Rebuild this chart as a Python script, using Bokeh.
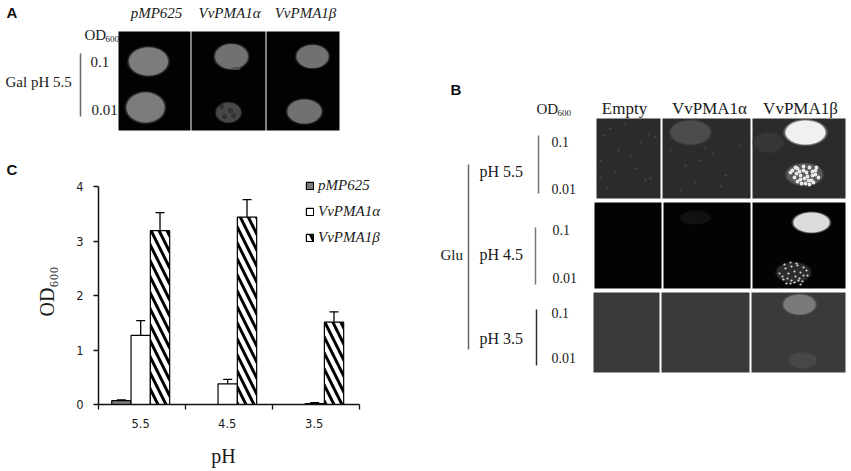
from bokeh.plotting import figure
from bokeh.layouts import row, column
from bokeh.embed import file_html
from bokeh.resources import INLINE
from bokeh.core.properties import value
from bokeh.models import (ColumnDataSource, FixedTicker, Legend, LegendItem, Range1d,
                          Whisker, TeeHead)

SERIF = "Liberation Serif"
SANS = "Liberation Sans"

# ---- panel C data
ph_labels = ["5.5", "4.5", "3.5"]
series_names = ["pMP625", "VvPMA1α", "VvPMA1β"]
pmp625 = [0.07, 0.0, 0.0]
pmp625_top = [0.085, 0.0, 0.0]
pma1a = [1.27, 0.38, 0.015]
pma1a_top = [1.54, 0.46, 0.035]
pma1b = [3.19, 3.44, 1.51]
pma1b_top = [3.52, 3.76, 1.70]

# ---- panel A
a_panes = [(118, 190, 31, 130), (191, 265, 31, 130), (266, 339, 31, 130)]
a_spots = [(148, 61, 39, 28, "#7c7c7c"), (145, 107, 38, 30, "#7c7c7c"), (231, 56, 33, 25, "#717171"),
           (236, 68, 8, 3, "#4c4c4c"), (228, 112, 25, 20, "#474747"), (312, 56, 32, 23, "#717171"),
           (304, 111, 34, 24, "#717171")]
a_blotch_x = [230, 224, 233, 221]
a_blotch_y = [110, 116, 115, 106]
a_headers = [("pMP625", 156), ("VvPMA1α", 229), ("VvPMA1β", 305)]
# ---- panel B
b_panes = [
    (596, 660, 118, 198, "#2b2b2b"), (662, 750, 118, 198, "#2b2b2b"), (752, 845, 118, 198, "#2b2b2b"),
    (594, 661, 202, 288, "#030303"), (663, 750, 202, 288, "#030303"), (752, 845, 202, 288, "#030303"),
    (593, 659, 292, 372, "#3a3a3a"), (661, 749, 292, 372, "#3a3a3a"), (751, 845, 292, 372, "#3a3a3a"),
]
b_spots = [
    (805, 132, 40, 24, "#f0f0f0"), (811, 222, 36, 20, "#dcdcdc"), (799, 304, 32, 20, "#7a7a7a"),
    (690, 132, 40, 24, "#4c4c4c"), (768, 142, 30, 20, "#363636"), (802, 360, 28, 16, "#474747"),
    (804, 174, 36, 22, "#5a5a5a"), (793, 272, 34, 20, "#2c2c2c"), (695, 217, 30, 14, "#111111"),
]
colony_1_x = [790, 794, 797, 800, 803, 806, 809, 812, 815, 818, 792, 796, 800, 804, 808, 812, 816,
              795, 799, 803, 807, 811, 815, 801, 805, 809, 797, 813]
colony_1_y = [172, 177, 168, 175, 166, 172, 167, 175, 170, 177, 170, 173, 179, 178, 180, 171, 167,
              167, 171, 170, 176, 180, 174, 183, 183, 184, 181, 182]
colony_2_x = [779, 782, 785, 788, 791, 794, 797, 800, 803, 806, 783, 787, 791, 795, 799, 803, 807,
              786, 790, 794, 798, 802, 790, 796, 784, 800]
colony_2_y = [273, 276, 268, 273, 266, 271, 265, 272, 267, 270, 279, 278, 280, 276, 278, 275, 275,
              283, 283, 282, 280, 281, 262, 263, 264, 284]
faint_x = [603, 610, 618, 625, 640, 648, 655, 600, 615, 630, 645, 607, 636, 670, 685, 700, 712, 725, 740,
           680, 695, 705, 720, 600, 650]
faint_y = [135, 128, 150, 123, 142, 134, 136, 160, 172, 155, 180, 187, 168, 150, 165, 160, 153, 175, 145,
           190, 182, 148, 186, 177, 178]


def pixel_fig(w, h, x0, y0):
    f = figure(width=w, height=h, x_range=Range1d(x0, x0 + w), y_range=Range1d(y0 + h, y0),
               output_backend="svg", toolbar_location=None, min_border=0, margin=0, frame_align=False,
               x_axis_type=None, y_axis_type=None, outline_line_color=None,
               background_fill_color="white", border_fill_color="white")
    f.grid.visible = False
    return f


def label(f, x, y, s, size=15, font=SERIF, style="normal", align="left", color="#1a1a1a"):
    f.text([x], [y], text=[s], text_font=value(font), text_font_size=f"{size}px",
           text_font_style=style, text_align=align, text_baseline="middle", text_color=color)


def od(f, x, y):
    label(f, x, y, "OD", 15)
    label(f, x + 21, y + 4, "600", 9)


def spot(f, x, y, w, h, color):
    f.ellipse([x], [y], width=[w * 1.12], height=[h * 1.12], fill_color=color, fill_alpha=0.2, line_color=None)
    f.ellipse([x], [y], width=[w * 1.05], height=[h * 1.05], fill_color=color, fill_alpha=0.4, line_color=None)
    f.ellipse([x], [y], width=[w], height=[h], fill_color=color, line_color=None)


# ---- panel A figure
fa = pixel_fig(430, 178, 0, 0)
for l, r, t, b in a_panes:
    fa.quad(left=[l], right=[r], top=[t], bottom=[b], fill_color="#020202", line_color=None)
for x, y, w, h, c in a_spots:
    spot(fa, x, y, w, h, c)
fa.circle(a_blotch_x, a_blotch_y, radius=2.5, fill_color="#2a2a2a", fill_alpha=0.7, line_color=None)
label(fa, 6, 12, "A", 15, SANS, "bold", color="#111111")
label(fa, 6, 169, "C", 15, SANS, "bold", color="#111111")
for s, x in a_headers:
    label(fa, x, 12, s, 15, SERIF, "italic", "center")
od(fa, 84, 34)
label(fa, 90, 61, "0.1")
label(fa, 91, 109, "0.01")
label(fa, 5, 81, "Gal pH 5.5")
fa.segment([80], [53], [80], [116], line_color="#666666", line_width=1.5)

# ---- panel B figure
fb = pixel_fig(421, 471, 430, 0)
for l, r, t, b, c in b_panes:
    fb.quad(left=[l], right=[r], top=[t], bottom=[b], fill_color=c, line_color=None)
for x, y, w, h, c in b_spots:
    spot(fb, x, y, w, h, c)
fb.circle(faint_x, faint_y, radius=1.1, fill_color="#4a4a4a", line_color=None)
fb.circle(colony_1_x, colony_1_y, radius=1.9, fill_color="#e8e8e8", line_color=None)
fb.circle(colony_2_x, colony_2_y, radius=1.1, fill_color="#d8d8d8", line_color=None)
label(fb, 450, 89, "B", 15, SANS, "bold", color="#111111")
od(fb, 536, 108)
for s, x in [("Empty", 624), ("VvPMA1α", 709), ("VvPMA1β", 800)]:
    label(fb, x, 108, s, 17, SERIF, "normal", "center")
for s, y in [("pH 5.5", 171), ("pH 4.5", 254), ("pH 3.5", 338)]:
    label(fb, 479, y, s, 16)
label(fb, 440, 254, "Glu", 15)
for s, x, y in [("0.1", 551, 141), ("0.01", 551, 188), ("0.1", 552, 229), ("0.01", 552, 277),
                ("0.1", 551, 312), ("0.01", 551, 357)]:
    label(fb, x, y, s, 14)
for x, y0, y1, c in [(468, 164, 349, "#666666"), (538, 135, 193, "#777777"),
                     (535, 227, 284, "#777777"), (536, 309, 365, "#333333")]:
    fb.segment([x], [y0], [x], [y1], line_color=c, line_width=1.5)

# ---- panel C figure: a real bar chart
fc = figure(width=430, height=262, x_range=Range1d(0, 3.816), y_range=Range1d(0, 4.147),
            output_backend="svg", toolbar_location=None, margin=0, frame_align=False,
            min_border_left=98, min_border_right=0, min_border_top=0, min_border_bottom=36,
            outline_line_color=None, background_fill_color="white", border_fill_color="white")
fc.grid.visible = False

centers = [0.485, 1.485, 2.485]
step = 0.222
width = 0.222
x_a = [c - step for c in centers]
x_b = centers
x_c = [c + step for c in centers]

r1 = fc.vbar(x=x_a, top=pmp625, width=width, fill_color="#7d7d7d", line_color="black", line_width=1.2)
r2 = fc.vbar(x=x_b, top=pma1a, width=width, fill_color="white", line_color="black", line_width=1.2)
r3 = fc.vbar(x=x_c, top=pma1b, width=width, fill_color="white", line_color="black", line_width=1.2,
             hatch_pattern="left_diagonal_line", hatch_color="black", hatch_weight=3, hatch_scale=16)

for xs, vals, tops in [(x_a, pmp625, pmp625_top), (x_b, pma1a, pma1a_top), (x_c, pma1b, pma1b_top)]:
    keep = [i for i in range(3) if tops[i] > vals[i]]
    src = ColumnDataSource(dict(x=[xs[i] for i in keep], lo=[vals[i] for i in keep], hi=[tops[i] for i in keep]))
    fc.add_layout(Whisker(base="x", lower="lo", upper="hi", source=src, line_color="black", line_width=1.3,
                          lower_head=None, upper_head=TeeHead(size=9, line_color="black", line_width=1.3)))

ax = fc.xaxis[0]
ax.bounds = (0, 3)
ax.ticker = FixedTicker(ticks=[0.485, 1.48, 2.48], minor_ticks=[0, 1, 2, 3])
ax.major_label_overrides = {0.485: ph_labels[0], 1.48: ph_labels[1], 2.48: ph_labels[2]}
ax.major_tick_in = 0
ax.major_tick_out = 0
ax.minor_tick_in = 0
ax.minor_tick_out = 5
ax.major_label_standoff = 9

ay = fc.yaxis[0]
ay.bounds = (0, 4)
ay.ticker = FixedTicker(ticks=[0, 1, 2, 3, 4])
ay.major_tick_in = 0
ay.major_tick_out = 5
ay.minor_tick_out = 0
ay.minor_tick_in = 0
ay.major_label_standoff = 10
ay.axis_label = "OD₆₀₀"
ay.axis_label_text_font = SERIF
ay.axis_label_text_font_size = "20px"
ay.axis_label_text_font_style = "normal"
ay.axis_label_standoff = 15

for a in (ax, ay):
    a.axis_line_color = "#111111"
    a.axis_line_width = 1.5
    a.major_tick_line_color = "#111111"
    a.minor_tick_line_color = "#111111"
    a.major_tick_line_width = 1.3
    a.minor_tick_line_width = 1.3
    a.major_label_text_font = "DejaVu Sans"
    a.major_label_text_font_size = "11.5px"
    a.major_label_text_color = "#1a1a1a"
    a.axis_label_text_color = "#1a1a1a"

legend = Legend(items=[LegendItem(label=value(series_names[0]), renderers=[r1]),
                       LegendItem(label=value(series_names[1]), renderers=[r2]),
                       LegendItem(label=value(series_names[2]), renderers=[r3])],
                location=(207, 158), background_fill_alpha=0, border_line_color=None,
                padding=0, margin=0, glyph_width=9, glyph_height=9, label_standoff=4,
                label_height=16, spacing=9, label_text_font=SERIF, label_text_font_style="italic",
                label_text_font_size="15px", label_text_color="#1a1a1a")
fc.add_layout(legend, "center")

# ---- x axis title, in its own strip below the chart
fp = pixel_fig(430, 31, 0, 440)
label(fp, 223, 455, "pH", 20, align="center")

left = column(fa, fc, fp, spacing=0, margin=0)
page = row(left, fb, spacing=0, margin=0)
open("out.html", "w").write(file_html(page, INLINE))
